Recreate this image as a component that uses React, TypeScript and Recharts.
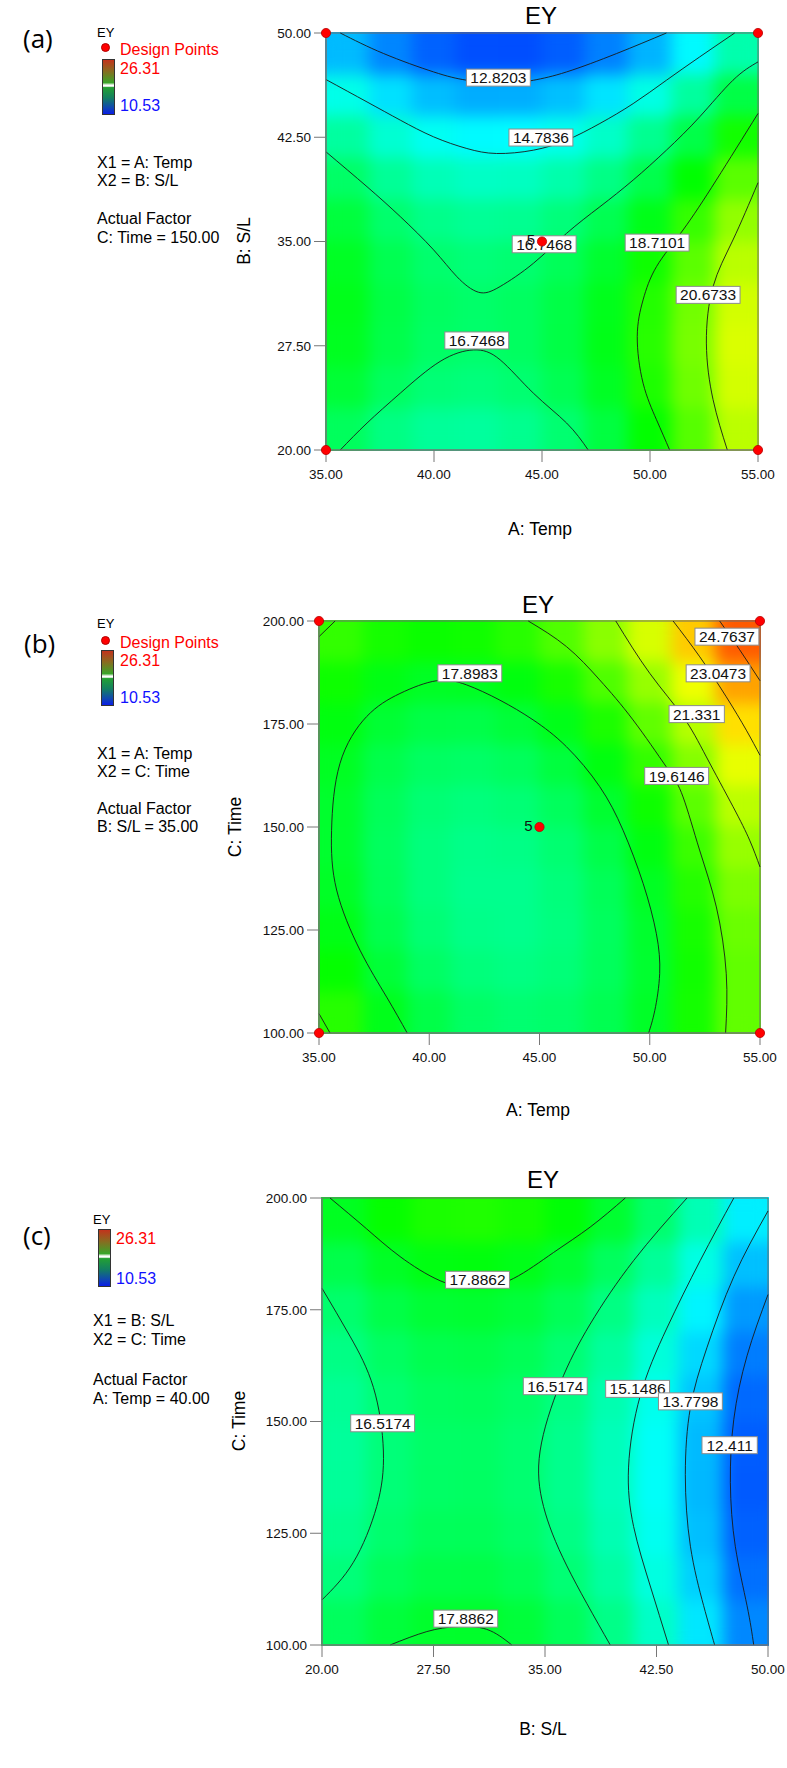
import React from "react";
import { ComposedChart, Scatter, Line, XAxis, YAxis, ReferenceArea } from "recharts";

type Pair = [number, number];
type Tag = [number, number, string];
type Run = [number, number, number];

const FONT = "'Liberation Sans', Arial, Helvetica, sans-serif";
const EY_LOW = 10.53;
const EY_HIGH = 26.31;

// axis ticks
const tempTicks = [35, 40, 45, 50, 55];
const slTicks = [20, 27.5, 35, 42.5, 50];
const timeTicks = [100, 125, 150, 175, 200];

// cell centres of the response grids
const tempCols = [36, 38, 40, 42, 44, 46, 48, 50, 52, 54];
const slCols = [21.5, 24.5, 27.5, 30.5, 33.5, 36.5, 39.5, 42.5, 45.5, 48.5];
const slRows = [48.5, 45.5, 42.5, 39.5, 36.5, 33.5, 30.5, 27.5, 24.5, 21.5];
const timeRows = [195, 185, 175, 165, 155, 145, 135, 125, 115, 105];

// (a) EY over Temp x S/L, Time = 150 (rows top to bottom)
const eyA = [
  [13.43, 12.6, 12.04, 11.75, 11.74, 11.99, 12.52, 13.32, 14.39, 15.74],
  [14.81, 14.01, 13.47, 13.21, 13.22, 13.5, 14.05, 14.88, 15.97, 17.34],
  [15.95, 15.17, 14.66, 14.42, 14.45, 14.76, 15.33, 16.19, 17.31, 18.7],
  [16.84, 16.08, 15.59, 15.38, 15.44, 15.77, 16.37, 17.25, 18.4, 19.81],
  [17.48, 16.75, 16.29, 16.1, 16.18, 16.54, 17.16, 18.07, 19.24, 20.68],
  [17.87, 17.17, 16.73, 16.57, 16.68, 17.06, 17.71, 18.64, 19.83, 21.3],
  [18.02, 17.34, 16.93, 16.79, 16.93, 17.33, 18.01, 18.96, 20.18, 21.67],
  [17.93, 17.27, 16.88, 16.77, 16.93, 17.36, 18.06, 19.04, 20.28, 21.8],
  [17.58, 16.95, 16.59, 16.5, 16.69, 17.14, 17.87, 18.87, 20.14, 21.68],
  [16.99, 16.39, 16.05, 15.99, 16.2, 16.68, 17.43, 18.45, 19.75, 21.32],
];

// (b) EY over Temp x Time, S/L = 35
const eyB = [
  [19.19, 18.74, 18.56, 18.65, 19.02, 19.65, 20.56, 21.74, 23.19, 24.91],
  [18.62, 18.11, 17.87, 17.9, 18.21, 18.78, 19.63, 20.75, 22.14, 23.81],
  [18.19, 17.62, 17.32, 17.29, 17.54, 18.05, 18.84, 19.9, 21.23, 22.84],
  [17.89, 17.26, 16.9, 16.82, 17.0, 17.46, 18.19, 19.19, 20.46, 22.01],
  [17.73, 17.04, 16.63, 16.48, 16.61, 17.0, 17.67, 18.62, 19.83, 21.32],
  [17.71, 16.96, 16.49, 16.28, 16.35, 16.69, 17.3, 18.18, 19.33, 20.76],
  [17.83, 17.02, 16.49, 16.22, 16.23, 16.51, 17.06, 17.88, 18.98, 20.34],
  [18.09, 17.22, 16.62, 16.3, 16.24, 16.46, 16.96, 17.72, 18.76, 20.06],
  [18.48, 17.55, 16.89, 16.51, 16.4, 16.56, 16.99, 17.7, 18.67, 19.92],
  [19.01, 18.02, 17.3, 16.86, 16.69, 16.79, 17.16, 17.81, 18.73, 19.92],
];

// (c) EY over S/L x Time, Temp = 40
const eyC = [
  [17.91, 18.49, 18.82, 18.9, 18.74, 18.33, 17.67, 16.77, 15.62, 14.22],
  [17.26, 17.83, 18.15, 18.22, 18.05, 17.63, 16.97, 16.06, 14.9, 13.5],
  [16.74, 17.3, 17.61, 17.68, 17.5, 17.08, 16.4, 15.49, 14.32, 12.91],
  [16.36, 16.91, 17.22, 17.28, 17.09, 16.66, 15.98, 15.05, 13.88, 12.46],
  [16.12, 16.66, 16.96, 17.01, 16.82, 16.38, 15.69, 14.75, 13.57, 12.15],
  [16.02, 16.55, 16.84, 16.88, 16.68, 16.23, 15.54, 14.59, 13.4, 11.97],
  [16.05, 16.58, 16.86, 16.9, 16.68, 16.23, 15.52, 14.57, 13.38, 11.93],
  [16.22, 16.74, 17.02, 17.04, 16.82, 16.36, 15.65, 14.69, 13.48, 12.03],
  [16.53, 17.04, 17.31, 17.33, 17.1, 16.63, 15.91, 14.94, 13.73, 12.27],
  [16.98, 17.48, 17.74, 17.75, 17.52, 17.03, 16.31, 15.33, 14.11, 12.64],
];

// contour lines (x, y)
const a12_82: Pair[] = [[35.66, 50], [37.67, 48.52], [39.98, 47.2], [41.52, 46.6], [43.21, 46.36], [44.6, 46.6], [46.14, 47.2], [48.45, 48.52], [50.76, 50]];
const a14_78: Pair[] = [[35, 46.65], [36.9, 45.04], [38.44, 43.73], [39.98, 42.53], [41.52, 41.69], [42.9, 41.33], [44.6, 41.57], [46.14, 42.29], [47.68, 43.49], [49.22, 44.92], [50.76, 46.6], [52.3, 48.28], [53.92, 50]];
const a16_75up: Pair[] = [[35, 41.45], [36.9, 38.94], [38.44, 36.79], [39.98, 34.4], [41.06, 32.47], [42.06, 31.35], [43.06, 31.76], [44.6, 33.43], [46.14, 35.59], [47.68, 37.5], [49.22, 39.42], [50.76, 41.57], [52.3, 43.97], [53.84, 46.6], [55, 47.92]];
const a16_75lo: Pair[] = [[35.66, 20], [36.9, 21.94], [38.44, 24.09], [40.28, 26.37], [41.83, 27.2], [43.06, 26.49], [44.6, 24.09], [46.14, 21.94], [47.14, 20]];
const a18_71: Pair[] = [[55, 44.21], [53.07, 39.42], [51.53, 35.83], [50.3, 33.19], [49.68, 30.8], [49.41, 28.17], [49.68, 24.81], [50.3, 22.18], [50.91, 20]];
const a20_67: Pair[] = [[55, 39.23], [53.84, 35.11], [52.92, 31.76], [52.61, 27.69], [52.92, 23.62], [53.58, 20]];

const b17_90: Pair[] = [[39.0, 100], [38.07, 108.7], [36.86, 120.1], [35.8, 134.7], [35.57, 149.2], [35.95, 165.4], [37.16, 176.8], [38.67, 182.4], [40.33, 185.5], [41.69, 184.5], [43.2, 180.8], [44.71, 176.0], [46.22, 169.5], [47.73, 159.8], [48.79, 149.2], [49.7, 136.3], [50.3, 124.1], [50.45, 114.4], [50.23, 105.5], [49.95, 100]];
const b19_61: Pair[] = [[44.49, 200], [46.22, 193.8], [47.73, 185.7], [49.24, 176.0], [50.75, 164.6], [51.51, 157.3], [52.26, 144.4], [53.02, 130.6], [53.47, 114.4], [53.44, 100]];
const b19_61top: Pair[] = [[35, 196.2], [35.73, 200]];
const b19_61bot: Pair[] = [[35, 104.7], [35.5, 100]];
const b21_33: Pair[] = [[48.46, 200], [50.0, 187.3], [51.51, 176.8], [52.57, 167.0], [53.78, 154.9], [54.53, 146.8], [55, 140.3]];
const b23_05: Pair[] = [[51.06, 200], [52.27, 191.3], [53.47, 181.6], [54.38, 173.5], [55, 167.4]];
const b24_76: Pair[] = [[53.17, 200], [54.08, 193.0], [55, 185.5]];

const c17_89top: Pair[] = [[20.54, 200], [23.0, 193.1], [25.25, 186.9], [27.94, 181.5], [30.41, 179.8], [32.88, 182.0], [35.57, 187.8], [38.04, 193.5], [40.4, 200]];
const c17_89bot: Pair[] = [[24.58, 100], [27.05, 103.0], [29.07, 104.1], [31.08, 103.5], [32.77, 100]];
const c16_52left: Pair[] = [[20, 179.8], [21.88, 169.1], [23.46, 157.6], [24.13, 143.4], [23.68, 131.0], [22.11, 118.5], [20, 110.1]];
const c16_52right: Pair[] = [[44.55, 200], [40.96, 186.0], [38.04, 171.8], [36.02, 158.5], [34.67, 143.4], [34.9, 131.0], [36.47, 117.7], [39.39, 100]];
const c15_15: Pair[] = [[47.7, 200], [45.44, 186.0], [43.2, 170.9], [41.41, 155.8], [40.62, 139.8], [40.96, 126.5], [42.08, 113.2], [43.31, 100]];
const c13_78: Pair[] = [[50, 197.1], [47.7, 182.4], [45.89, 166.5], [44.78, 153.1], [44.44, 138.1], [44.78, 122.1], [45.67, 108.8], [46.41, 100]];
const c12_41: Pair[] = [[50, 178.4], [48.59, 164.7], [47.7, 150.5], [47.47, 136.3], [47.8, 122.1], [48.59, 108.8], [49.04, 100]];

// contour level labels
const tagsA: Tag[] = [[42.98, 46.79, "12.8203"], [44.95, 42.48, "14.7836"], [45.1, 34.8, "16.7468"], [50.33, 34.92, "18.7101"], [52.69, 31.16, "20.6733"], [41.98, 27.88, "16.7468"]];
const tagsB: Tag[] = [[41.84, 187.3, "17.8983"], [53.5, 196.2, "24.7637"], [53.1, 187.3, "23.0473"], [52.13, 177.4, "21.331"], [51.22, 162.4, "19.6146"]];
const tagsC: Tag[] = [[30.46, 181.7, "17.8862"], [24.08, 149.6, "16.5174"], [35.69, 157.9, "16.5174"], [41.23, 157.3, "15.1486"], [44.78, 154.5, "13.7798"], [47.42, 144.7, "12.411"], [29.67, 105.9, "17.8862"]];

// design points (x, y, replicates)
const runsA: Run[] = [[35, 20, 1], [35, 50, 1], [55, 20, 1], [55, 50, 1], [45, 35, 5]];
const runsB: Run[] = [[35, 100, 1], [35, 200, 1], [55, 100, 1], [55, 200, 1], [45, 150, 5]];

const STOPS = [
  [0, 0, 0, 255],
  [0.25, 0, 255, 255],
  [0.5, 0, 255, 0],
  [0.75, 255, 255, 0],
  [1, 255, 0, 0],
];

function heatColor(v: number) {
  const t = Math.min(1, Math.max(0, (v - EY_LOW) / (EY_HIGH - EY_LOW)));
  for (let i = 1; i < STOPS.length; i++) {
    const [t0, r0, g0, b0] = STOPS[i - 1];
    const [t1, r1, g1, b1] = STOPS[i];
    if (t <= t1) {
      const f = (t - t0) / (t1 - t0);
      return `rgb(${Math.round(r0 + (r1 - r0) * f)},${Math.round(g0 + (g1 - g0) * f)},${Math.round(b0 + (b1 - b0) * f)})`;
    }
  }
  return "rgb(255,0,0)";
}

const grid = (xs: number[], ys: number[], rows: number[][]) =>
  rows.flatMap((row, i) => row.map((v, j) => ({ x: xs[j], y: ys[i], v })));
const pts = (c: Pair[]) => c.map(([x, y]) => ({ x, y }));

type PanelCfg = {
  top: number; height: number; L: number; R: number; T: number; B: number;
  xDomain: [number, number]; yDomain: [number, number];
  xTicks: number[]; yTicks: number[];
  cells: { x: number; y: number; v: number }[];
  lines: Pair[][]; tags: Tag[]; runs: Run[];
};

const panels: PanelCfg[] = [
  {
    top: 0, height: 560, L: 326, R: 758, T: 33, B: 450,
    xDomain: [35, 55], yDomain: [20, 50], xTicks: tempTicks, yTicks: slTicks,
    cells: grid(tempCols, slRows, eyA),
    lines: [a12_82, a14_78, a16_75up, a16_75lo, a18_71, a20_67],
    tags: tagsA, runs: runsA,
  },
  {
    top: 590, height: 560, L: 319, R: 760, T: 621, B: 1033,
    xDomain: [35, 55], yDomain: [100, 200], xTicks: tempTicks, yTicks: timeTicks,
    cells: grid(tempCols, timeRows, eyB),
    lines: [b17_90, b19_61, b19_61top, b19_61bot, b21_33, b23_05, b24_76],
    tags: tagsB, runs: runsB,
  },
  {
    top: 1160, height: 600, L: 322, R: 768, T: 1198, B: 1645,
    xDomain: [20, 50], yDomain: [100, 200], xTicks: slTicks, yTicks: timeTicks,
    cells: grid(slCols, timeRows, eyC),
    lines: [c17_89top, c17_89bot, c16_52left, c16_52right, c15_15, c13_78, c12_41],
    tags: tagsC, runs: [],
  },
];

const W = 787;
const YW = 60;
const XH = 40;

const TagBox = (props: any) => {
  const { cx, cy, payload } = props;
  const s: string = payload.text;
  const w = s.replace(".", "").length * 8.6 + 4.3 + 8;
  return (
    <g>
      <rect x={cx - w / 2} y={cy - 8.5} width={w} height={17} fill="#fff" stroke="#8c8c8c" strokeWidth={1} />
      <text x={cx} y={cy + 5.6} textAnchor="middle" fontSize={15.5} fill="#111" fontFamily={FONT}>{s}</text>
    </g>
  );
};

const RunDot = (props: any) => {
  const { cx, cy, payload } = props;
  return (
    <g>
      {payload.n > 1 && (
        <text x={cx - 7} y={cy + 3.5} textAnchor="end" fontSize={15} fill="#111" fontFamily={FONT}>{payload.n}</text>
      )}
      <circle cx={cx} cy={cy} r={4.6} fill="#ff0000" stroke="#b80000" strokeWidth={0.8} />
    </g>
  );
};

function Panel({ p }: { p: PanelCfg }) {
  const margin = { top: p.T - p.top, right: W - p.R, bottom: p.top + p.height - p.B - XH, left: p.L - YW };
  const cw = (p.R - p.L) / 10;
  const ch = (p.B - p.T) / 10;
  const fmt = (v: number) => v.toFixed(2);
  const axes = (show: boolean) => [
    <XAxis
      key="x" type="number" dataKey="x" domain={p.xDomain} ticks={p.xTicks} interval={0} height={XH}
      tickFormatter={fmt} tickSize={12} tickMargin={7}
      tick={show ? { fill: "#111", fontSize: 13.5, fontFamily: FONT } : false}
      tickLine={show ? { stroke: "#777" } : false} axisLine={show ? { stroke: "#777" } : false}
    />,
    <YAxis
      key="y" type="number" dataKey="y" domain={p.yDomain} ticks={p.yTicks} interval={0} width={YW}
      tickFormatter={fmt} tickSize={12} tickMargin={3}
      tick={show ? { fill: "#111", fontSize: 13.5, fontFamily: FONT } : false}
      tickLine={show ? { stroke: "#777" } : false} axisLine={show ? { stroke: "#777" } : false}
    />,
  ];
  const layer: React.CSSProperties = { position: "absolute", left: 0, top: 0 };
  return (
    <div style={{ position: "absolute", left: 0, top: p.top, width: W, height: p.height }}>
      <div style={layer}>
        <ComposedChart width={W} height={p.height} margin={margin}>
          {axes(false)}
          <Scatter
            className="heat" data={p.cells} isAnimationActive={false}
            shape={(s: any) => (
              <rect x={s.cx - cw / 2 - 0.3} y={s.cy - ch / 2 - 0.3} width={cw + 0.6} height={ch + 0.6} fill={heatColor(s.payload.v)} />
            )}
          />
        </ComposedChart>
      </div>
      <div style={layer}>
        <ComposedChart width={W} height={p.height} margin={margin} style={{ fontFamily: FONT }}>
          {axes(true)}
          {p.lines.map((c, i) => (
            <Line
              key={i} data={pts(c)} dataKey="y" type="natural" stroke="#1a1a1a" strokeWidth={0.9}
              dot={false} activeDot={false} isAnimationActive={false}
            />
          ))}
          <ReferenceArea x1={p.xDomain[0]} x2={p.xDomain[1]} y1={p.yDomain[0]} y2={p.yDomain[1]} fill="none" stroke="#6a6a6a" strokeWidth={1} />
        </ComposedChart>
      </div>
      <div style={layer}>
        <ComposedChart width={W} height={p.height} margin={margin}>
          {axes(false)}
          <Scatter data={p.tags.map(([x, y, text]) => ({ x, y, text }))} shape={TagBox} isAnimationActive={false} />
          <Scatter data={p.runs.map(([x, y, n]) => ({ x, y, n }))} shape={RunDot} isAnimationActive={false} />
        </ComposedChart>
      </div>
    </div>
  );
}

type TextItem = { x: number; y: number; s: string; size?: number; color?: string; center?: boolean; rot?: boolean; font?: string };

const texts: TextItem[] = [
  // (a)
  { x: 23, y: 37.5, s: "(a)", size: 26, font: "'Open Sans', sans-serif" },
  { x: 97, y: 32, s: "EY", size: 13 },
  { x: 120, y: 50, s: "Design Points", size: 16, color: "#ff0000" },
  { x: 120, y: 69, s: "26.31", size: 16, color: "#ff0000" },
  { x: 120, y: 106, s: "10.53", size: 16, color: "#1010ff" },
  { x: 97, y: 163, s: "X1 = A: Temp", size: 16 },
  { x: 97, y: 181, s: "X2 = B: S/L", size: 16 },
  { x: 97, y: 219, s: "Actual Factor", size: 16 },
  { x: 97, y: 238, s: "C: Time = 150.00", size: 16 },
  { x: 541, y: 16, s: "EY", size: 24, center: true },
  { x: 540, y: 530, s: "A: Temp", size: 17.5, center: true },
  { x: 245, y: 241, s: "B: S/L", size: 17.5, center: true, rot: true },
  // (b)
  { x: 24, y: 643, s: "(b)", size: 26, font: "'Open Sans', sans-serif" },
  { x: 97, y: 623, s: "EY", size: 13 },
  { x: 120, y: 642.5, s: "Design Points", size: 16, color: "#ff0000" },
  { x: 120, y: 661, s: "26.31", size: 16, color: "#ff0000" },
  { x: 120, y: 698, s: "10.53", size: 16, color: "#1010ff" },
  { x: 97, y: 754, s: "X1 = A: Temp", size: 16 },
  { x: 97, y: 772, s: "X2 = C: Time", size: 16 },
  { x: 97, y: 809, s: "Actual Factor", size: 16 },
  { x: 97, y: 827, s: "B: S/L = 35.00", size: 16 },
  { x: 538, y: 605, s: "EY", size: 24, center: true },
  { x: 538, y: 1111, s: "A: Temp", size: 17.5, center: true },
  { x: 236, y: 827, s: "C: Time", size: 17.5, center: true, rot: true },
  // (c)
  { x: 23, y: 1235, s: "(c)", size: 26, font: "'Open Sans', sans-serif" },
  { x: 93, y: 1219, s: "EY", size: 13 },
  { x: 116, y: 1239, s: "26.31", size: 16, color: "#ff0000" },
  { x: 116, y: 1279, s: "10.53", size: 16, color: "#1010ff" },
  { x: 93, y: 1321, s: "X1 = B: S/L", size: 16 },
  { x: 93, y: 1340, s: "X2 = C: Time", size: 16 },
  { x: 93, y: 1380, s: "Actual Factor", size: 16 },
  { x: 93, y: 1398.5, s: "A: Temp = 40.00", size: 16 },
  { x: 543, y: 1180, s: "EY", size: 24, center: true },
  { x: 543, y: 1730, s: "B: S/L", size: 17.5, center: true },
  { x: 240, y: 1421, s: "C: Time", size: 17.5, center: true, rot: true },
];

// legend colour bars and dots: [left, top, width, height]
const bars: [number, number, number, number][] = [[102, 59, 12.5, 55.5], [101, 650, 13, 56], [97.5, 1229, 13.5, 58]];
const dots: Pair[] = [[105, 47], [105, 640]];

const BAR_GRADIENT =
  "linear-gradient(to bottom, #c2331c 0%, #8a6a20 20%, #3aa52a 42%, #ffffff 46.5%, #ffffff 48.5%, #23a033 51%, #138060 70%, #1048b0 88%, #0a1ee6 100%)";

export default function App() {
  return (
    <div style={{ position: "absolute", left: 0, top: 0, width: W, height: 1768, background: "#fff", fontFamily: FONT, overflow: "hidden" }}>
      <style>{`.heat { filter: url(#heatBlur); }`}</style>
      <svg width={0} height={0} style={{ position: "absolute" }}>
        <defs>
          <filter id="heatBlur" x="0" y="0" width="1" height="1" colorInterpolationFilters="sRGB">
            <feGaussianBlur stdDeviation={8} />
            <feComponentTransfer>
              <feFuncA type="table" tableValues="1 1" />
            </feComponentTransfer>
          </filter>
        </defs>
      </svg>
      {panels.map((p, i) => (
        <Panel key={i} p={p} />
      ))}
      {texts.map((t, i) => (
        <div
          key={i}
          style={{
            position: "absolute", left: t.x, top: t.y, whiteSpace: "nowrap", lineHeight: 1,
            fontSize: t.size ?? 16, color: t.color ?? "#000", fontFamily: t.font ?? FONT,
            transform: t.center ? (t.rot ? "translate(-50%, -50%) rotate(-90deg)" : "translate(-50%, -50%)") : "translateY(-50%)",
          }}
        >
          {t.s}
        </div>
      ))}
      {bars.map(([x, y, w, h], i) => (
        <div key={i} style={{ position: "absolute", left: x, top: y, width: w, height: h, boxSizing: "border-box", border: "1.5px solid #333", background: BAR_GRADIENT }} />
      ))}
      {dots.map(([x, y], i) => (
        <div key={i} style={{ position: "absolute", left: x - 4.5, top: y - 4.5, width: 9, height: 9, borderRadius: "50%", boxSizing: "border-box", background: "#ff0000", border: "0.8px solid #b00000" }} />
      ))}
    </div>
  );
}
